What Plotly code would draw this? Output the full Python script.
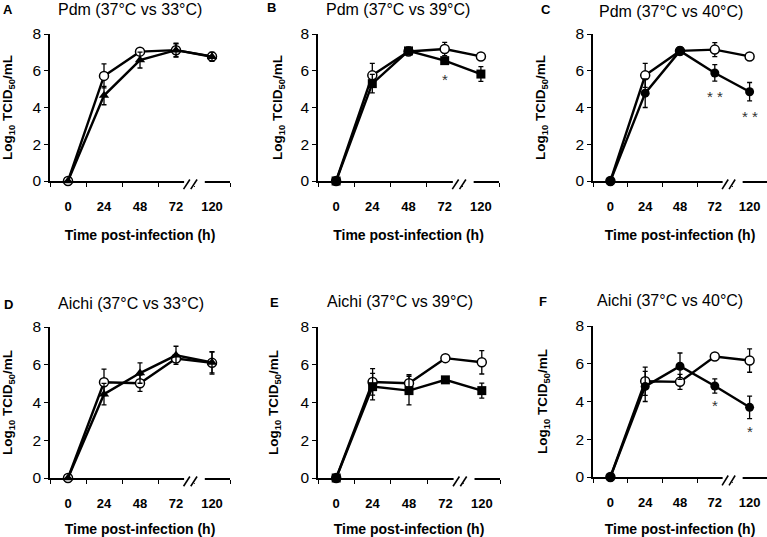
import plotly.graph_objects as go

W, H = 767, 537
FONT = "Arial, 'Liberation Sans', sans-serif"

# ---------------- data ----------------
times = ["0", "24", "48", "72", "120"]
xcat = [0, 1, 2, 3, 4]

# Pdm
A_37 = [0, 5.72, 7.04, 7.12, 6.78]
A_37_err = [0, 0.65, 0.10, 0.38, 0.10]
A_33 = [0, 4.65, 6.58, 7.12, 6.76]
A_33_err = [0, 0.50, 0.43, 0.35, 0.25]

B_37 = [0, 5.75, 7.05, 7.18, 6.78]
B_37_err = [0, 0.65, 0.10, 0.36, 0.10]
B_39 = [0, 5.30, 7.08, 6.55, 5.82]
B_39_err = [0, 0.50, 0.20, 0.12, 0.40]

C_37 = [0, 5.75, 7.08, 7.15, 6.78]
C_37_err = [0, 0.65, 0.10, 0.38, 0.10]
C_40 = [0, 4.78, 7.08, 5.88, 4.86]
C_40_err = [0, 0.78, 0.22, 0.45, 0.50]

# Aichi
D_37 = [0, 5.07, 5.02, 6.33, 6.10]
D_37_err = [0, 0.70, 0.43, 0.15, 0.60]
D_33 = [0, 4.44, 5.56, 6.50, 6.12]
D_33_err = [0, 0.57, 0.54, 0.48, 0.55]

E_37 = [0, 5.09, 5.02, 6.35, 6.13]
E_37_err = [0, 0.70, 0.45, 0.15, 0.62]
E_39 = [0, 4.84, 4.63, 5.20, 4.63]
E_39_err = [0, 0.70, 0.76, 0.12, 0.40]

F_37 = [0, 5.07, 5.04, 6.38, 6.17]
F_37_err = [0, 0.75, 0.40, 0.15, 0.62]
F_40 = [0, 4.80, 5.87, 4.82, 3.69]
F_40_err = [0, 0.80, 0.70, 0.38, 0.60]

titles = ["Pdm (37°C vs 33°C)", "Pdm (37°C vs 39°C)", "Pdm (37°C vs 40°C)",
          "Aichi (37°C vs 33°C)", "Aichi (37°C vs 39°C)", "Aichi (37°C vs 40°C)"]
letters = ["A", "B", "C", "D", "E", "F"]

# significance marks: (panel index, category, y value, text)
stars = [(1, 3, 5.5, "*"), (2, 3, 4.6, "* *"), (2, 4, 3.5, "* *"),
         (5, 3, 3.8, "*"), (5, 4, 2.42, "*")]

panels = [
    (A_37, A_37_err, A_33, A_33_err, "triangle-up"),
    (B_37, B_37_err, B_39, B_39_err, "square"),
    (C_37, C_37_err, C_40, C_40_err, "circle"),
    (D_37, D_37_err, D_33, D_33_err, "triangle-up"),
    (E_37, E_37_err, E_39, E_39_err, "square"),
    (F_37, F_37_err, F_40, F_40_err, "circle"),
]

# ---------------- layout geometry (pixels) ----------------
# (x_left, x_right, y_zero, y_top)
boxes = [
    (50, 230, 181, 34), (318, 499, 181, 34), (593, 767, 181, 34),
    (50, 230, 478, 327), (318, 500, 478, 327), (593, 767, 477, 326),
]
ytitle_standoff = [19, 15, 27, 20, 19, 25]
title_pos = [(130, 10), (398, 10), (671, 11), (131, 303), (400, 301), (670, 300)]
letter_pos = [(8, 9), (271, 7), (546, 9), (8, 304), (274, 302), (543, 301)]


def px(x):
    return x / W


def py(y):
    return 1 - y / H


fig = go.Figure()
layout = dict(
    width=W, height=H, margin=dict(l=0, r=0, t=0, b=0, pad=0, autoexpand=False),
    paper_bgcolor="white", plot_bgcolor="white", showlegend=False,
    font=dict(family=FONT, color="black"),
)
annotations = []
shapes = []

for i, (o, oe, f, fe, sym) in enumerate(panels):
    n = i + 1
    xa = "x" if n == 1 else f"x{n}"
    ya = "y" if n == 1 else f"y{n}"
    common = dict(mode="lines+markers", x=xcat, xaxis=xa, yaxis=ya, cliponaxis=False,
                  line=dict(color="black", width=2.4))
    fig.add_trace(go.Scatter(
        y=o, **common,
        marker=dict(symbol="circle", size=9, color="white", line=dict(color="black", width=1.5)),
        error_y=dict(type="data", array=oe, color="black", thickness=1.3, width=2.5)))
    fig.add_trace(go.Scatter(
        y=f, **common,
        marker=dict(symbol=sym, size=9, color="black", line=dict(color="black", width=0)),
        error_y=dict(type="data", array=fe, color="black", thickness=1.3, width=2.5)))

    xl, xr, y0, y8 = boxes[i]
    xkey = "xaxis" if n == 1 else f"xaxis{n}"
    ykey = "yaxis" if n == 1 else f"yaxis{n}"
    layout[xkey] = dict(
        domain=[px(xl), px(xr)], anchor=ya, range=[-0.5, 4.5], automargin=False,
        tickmode="array", tickvals=xcat, ticktext=times,
        ticks="outside", ticklen=13, tickcolor="rgba(0,0,0,0)",
        minor=dict(tickmode="array", tickvals=[-0.5, 0.5, 1.5, 2.5, 3.5, 4.5],
                   ticks="outside", ticklen=4, tickwidth=1.3, tickcolor="black", showgrid=False),
        showline=True, linecolor="black", linewidth=1.5, showgrid=False, zeroline=False,
        tickfont=dict(size=13, weight="bold", family=FONT),
        title=dict(text="Time post-infection (h)", standoff=17,
                   font=dict(size=14, weight="bold", family=FONT)),
        fixedrange=True,
    )
    layout[ykey] = dict(
        domain=[py(y0), py(y8)], anchor=xa, range=[0, 8], automargin=False,
        tickmode="array", tickvals=[0, 2, 4, 6, 8],
        ticks="outside", ticklen=4, tickwidth=1.3, tickcolor="black",
        showline=True, linecolor="black", linewidth=1.5, showgrid=False, zeroline=False,
        tickfont=dict(size=15.5, family=FONT),
        title=dict(text="Log<sub>10</sub> TCID<sub>50</sub>/mL", standoff=ytitle_standoff[i],
                   font=dict(size=13.5, weight="bold", family=FONT)),
        fixedrange=True,
    )

    # axis break (between 72 and 120)
    xd = f"{xa} domain"
    yd = f"{ya} domain"
    shapes.append(dict(type="rect", xref=xd, yref=yd, x0=0.745, x1=0.86, y0=-0.035, y1=0.02,
                       fillcolor="white", line=dict(width=0), layer="above"))
    for sx in (0.742, 0.782):
        shapes.append(dict(type="line", xref=xd, yref=yd, x0=sx, x1=sx + 0.035,
                           y0=-0.055, y1=0.01, line=dict(color="black", width=1.6), layer="above"))

    tx, ty = title_pos[i]
    annotations.append(dict(text=titles[i], x=px(tx), y=py(ty), xref="paper", yref="paper",
                            showarrow=False, xanchor="center", yanchor="middle",
                            font=dict(size=16, family=FONT)))
    lx, ly = letter_pos[i]
    annotations.append(dict(text=letters[i], x=px(lx), y=py(ly), xref="paper", yref="paper",
                            showarrow=False, xanchor="center", yanchor="middle",
                            font=dict(size=13, weight="bold", family=FONT)))

for (pi, cx, cy, txt) in stars:
    n = pi + 1
    xa = "x" if n == 1 else f"x{n}"
    ya = "y" if n == 1 else f"y{n}"
    annotations.append(dict(text=txt, x=cx, y=cy, xref=xa, yref=ya, showarrow=False,
                            xanchor="center", yanchor="middle",
                            font=dict(size=15, color="#333333", family=FONT)))

layout["annotations"] = annotations
layout["shapes"] = shapes
fig.update_layout(**layout)
fig.write_html("out.html", config={"displayModeBar": False, "responsive": False},
               post_script="document.body.style.margin='0';document.body.style.overflow='hidden';")
